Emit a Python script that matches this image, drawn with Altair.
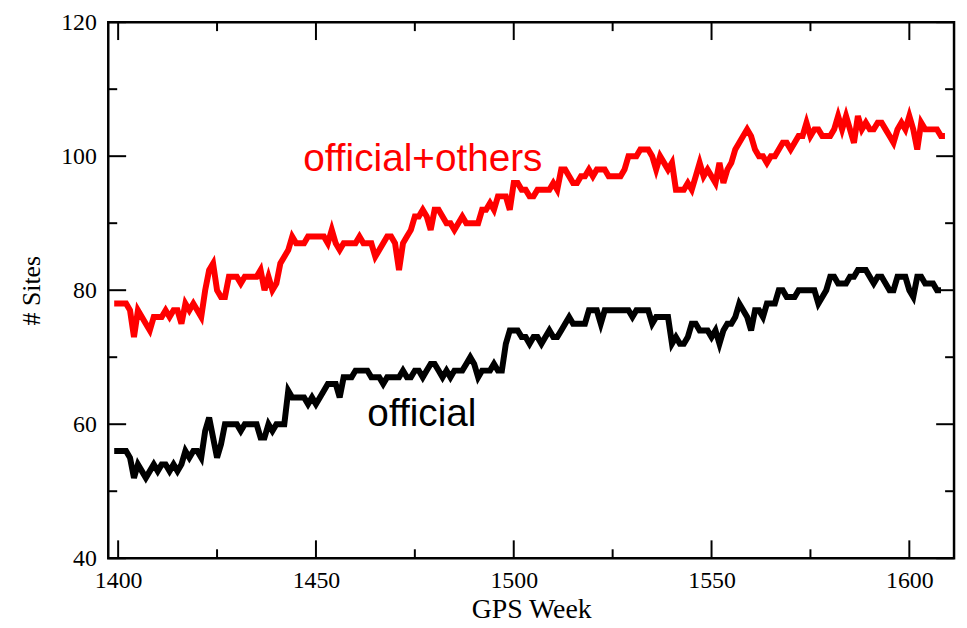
import altair as alt
import pandas as pd

start_week = 1399

official_others = [
    78, 78, 78, 78, 77, 73, 77, 76, 75, 74, 76, 76, 76, 77, 76, 77, 77, 75, 78, 77,
    78, 77, 76, 80, 83, 84, 80, 79, 79, 82, 82, 82, 81, 82, 82, 82, 82, 83, 80, 82,
    80, 81, 84, 85, 86, 88, 87, 87, 87, 88, 88, 88, 88, 88, 87, 89, 87, 86, 87, 87,
    87, 87, 88, 87, 87, 87, 85, 86, 87, 88, 88, 87, 83, 87, 88, 89, 91, 91, 92, 91,
    89, 92, 92, 91, 90, 90, 89, 90, 91, 90, 90, 90, 90, 92, 92, 93, 92, 94, 94, 94,
    92, 96, 96, 95, 95, 94, 94, 95, 95, 95, 95, 96, 95, 98, 98, 97, 96, 96, 97, 97,
    98, 97, 98, 98, 98, 97, 97, 97, 97, 98, 100, 100, 100, 101, 101, 101, 100, 98, 100, 99,
    98, 99, 95, 95, 95, 96, 95, 97, 99, 97, 98, 97, 96, 99, 96, 98, 99, 101, 102, 103,
    104, 103, 101, 100, 100, 99, 100, 100, 101, 102, 102, 101, 102, 103, 103, 105, 103, 104, 104, 103,
    103, 103, 104, 106, 104, 106, 104, 102, 106, 104, 105, 104, 104, 105, 105, 104, 103, 102, 104, 105,
    104, 106, 104, 101, 105, 104, 104, 104, 104, 103, 103,
]

official = [
    56, 56, 56, 56, 55, 52, 54, 53, 52, 53, 54, 53, 54, 54, 53, 54, 53, 54, 56, 55,
    56, 56, 55, 59, 61, 58, 55, 57, 60, 60, 60, 60, 59, 60, 60, 60, 60, 58, 58, 60,
    59, 60, 60, 60, 65, 64, 64, 64, 64, 63, 64, 63, 64, 65, 66, 66, 66, 64, 67, 67,
    67, 68, 68, 68, 68, 67, 67, 67, 66, 67, 67, 67, 67, 68, 67, 67, 68, 68, 67, 68,
    69, 69, 68, 67, 68, 67, 68, 68, 68, 69, 70, 69, 67, 68, 68, 68, 69, 68, 68, 72,
    74, 74, 74, 73, 73, 72, 73, 73, 72, 73, 74, 73, 73, 74, 75, 76, 75, 75, 75, 75,
    77, 77, 77, 75, 77, 77, 77, 77, 77, 77, 77, 76, 77, 77, 77, 77, 75, 76, 76, 76,
    76, 72, 73, 72, 72, 73, 75, 75, 74, 74, 74, 73, 74, 72, 74, 75, 75, 76, 78, 77,
    76, 74, 77, 77, 76, 78, 78, 78, 80, 80, 79, 79, 79, 80, 80, 80, 80, 80, 78, 79,
    80, 82, 82, 81, 81, 81, 82, 82, 83, 83, 83, 82, 81, 82, 82, 81, 80, 80, 82, 82,
    82, 80, 79, 82, 82, 81, 81, 81, 80, 80,
]

series_names = ["official+others", "official"]
series_colors = ["#ff0000", "#000000"]

x_ticks_major = [1400, 1450, 1500, 1550, 1600]
x_ticks_minor = [1425, 1475, 1525, 1575]
y_ticks_major = [40, 60, 80, 100, 120]
y_ticks_minor = [50, 70, 90, 110]

x_domain = [1397.5, 1611.3]
y_domain = [40, 120]

label_text = ["official+others", "official"]
label_week = [1446.8, 1463.0]
label_value = [99.6, 61.5]

W, H = 852, 540

rows = []
for name, vals in zip(series_names, [official_others, official]):
    for i, v in enumerate(vals):
        rows.append({"week": start_week + i, "sites": v, "series": name})
df = pd.DataFrame(rows)

xs = alt.Scale(domain=x_domain, nice=False, zero=False)
ys = alt.Scale(domain=y_domain, nice=False, zero=False)
color_scale = alt.Scale(domain=series_names, range=series_colors)

x_axis = alt.Axis(values=x_ticks_major, title="GPS Week", ticks=False, domain=False,
                  grid=False, labelFont="Liberation Serif", labelFontSize=24,
                  labelColor="black", labelPadding=10, titleFont="Liberation Serif",
                  titleFontSize=28, titleFontWeight="normal", titleColor="black",
                  titlePadding=4, format="d", labelFlush=False)
y_axis = alt.Axis(values=y_ticks_major, title="# Sites", ticks=False, domain=False,
                  grid=False, labelFont="Liberation Serif", labelFontSize=24,
                  labelColor="black", labelPadding=12, titleFont="Liberation Serif",
                  titleFontSize=26, titleFontWeight="normal", titleColor="black",
                  titlePadding=16, labelFlush=False)

lines = alt.Chart(df).mark_line(strokeWidth=6, strokeJoin="miter").encode(
    x=alt.X("week:Q", scale=xs, axis=x_axis),
    y=alt.Y("sites:Q", scale=ys, axis=y_axis),
    color=alt.Color("series:N", scale=color_scale, legend=None),
    detail="series:N",
)

ymaj = pd.DataFrame({"v": y_ticks_major})
ymin = pd.DataFrame({"v": y_ticks_minor})
xmaj = pd.DataFrame({"w": x_ticks_major})
xmin = pd.DataFrame({"w": x_ticks_minor})

def ytick(data, x0, x1):
    return alt.Chart(data).mark_rule(color="black", strokeWidth=2).encode(
        y=alt.Y("v:Q", scale=ys, axis=y_axis), x=alt.value(x0), x2=alt.value(x1))

def xtick(data, y0, y1):
    return alt.Chart(data).mark_rule(color="black", strokeWidth=2).encode(
        x=alt.X("w:Q", scale=xs, axis=x_axis), y=alt.value(y0), y2=alt.value(y1))

ticks = [
    ytick(ymaj, 0, 18), ytick(ymaj, W - 18, W),
    ytick(ymin, 0, 9), ytick(ymin, W - 9, W),
    xtick(xmaj, H - 18, H), xtick(xmaj, 0, 18),
    xtick(xmin, H - 9, H), xtick(xmin, 0, 9),
]

labels_df = pd.DataFrame({"text": label_text, "week": label_week, "sites": label_value,
                          "series": series_names})
labels = alt.Chart(labels_df).mark_text(align="left", baseline="middle",
                                        font="Liberation Sans", fontSize=39).encode(
    x=alt.X("week:Q", scale=xs, axis=x_axis),
    y=alt.Y("sites:Q", scale=ys, axis=y_axis),
    text="text:N",
    color=alt.Color("series:N", scale=color_scale, legend=None),
)

chart = alt.layer(lines, *ticks, labels).properties(
    width=W, height=H,
    autosize=alt.AutoSizeParams(type="none"),
    padding={"left": 101, "top": 12, "right": 5, "bottom": 66},
).configure(
    background="white",
    view=alt.ViewConfig(stroke="black", strokeWidth=2.5),
)

chart.save("out.html", embed_options={"renderer": "svg", "actions": False})
